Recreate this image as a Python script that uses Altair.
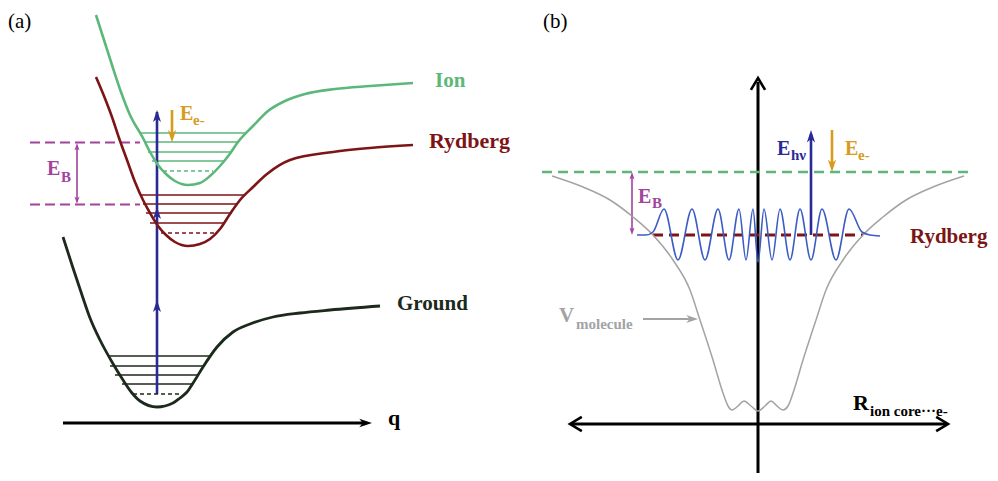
import altair as alt
import pandas as pd

GREEN = "#5cb87a"
RED = "#7d1416"
DARK = "#1c2a1c"
BLUE = "#2a2a96"
ORANGE = "#d89b1c"
MAGENTA = "#a2439c"
GRAY = "#a3a3a3"
WAVE = "#3b5cc4"
BLACK = "#000000"

# ---------------- potential curves (pixel-like schematic coordinates) -------------
ion_x = [96, 104, 112, 121, 130, 143, 150, 158, 166, 175, 188, 200, 210, 220, 229, 238, 253, 268, 285, 305, 335, 370, 413]
ion_y = [15, 40, 65, 92, 115, 138, 152, 165, 174, 181, 185, 183, 176, 166, 155, 142, 126, 111, 101, 94, 89, 86, 83]

ryd_x = [96, 104, 112, 119, 127, 135, 143, 150, 158, 166, 175, 188, 200, 210, 220, 230, 240, 253, 267, 290, 333, 370, 413]
ryd_y = [77, 96, 117, 138, 160, 182, 200, 213, 226, 235, 242, 246, 244, 239, 229, 214, 200, 187, 174, 160, 152, 148, 145]

gnd_x = [63, 73, 83, 90, 100, 112, 123, 132, 140, 157, 173, 180, 187, 195, 203, 217, 233, 250, 273, 300, 330, 380]
gnd_y = [237, 268, 298, 318, 340, 362, 380, 393, 401, 407, 403, 398, 392, 380, 367, 347, 332, 324, 317, 313, 310, 306]

vmol_x = [552, 583, 610, 633, 653, 673, 690, 700, 713, 723, 728, 732, 738, 744, 751, 758, 765, 771, 777, 783, 788, 793, 803, 816, 826, 843, 863, 883, 906, 933, 964]
vmol_y = [176, 187, 200, 217, 235, 260, 290, 320, 360, 393, 406, 410, 406, 401, 406, 411, 406, 401, 406, 410, 406, 393, 360, 320, 290, 260, 235, 217, 200, 187, 176]

wave_x = [637, 646, 653, 664, 678, 692, 705, 718, 729, 739, 746, 753, 758, 764, 772, 780, 790, 800, 811, 822, 836, 849, 862, 870, 880]
wave_y = [235, 235, 232, 209, 260, 209, 260, 209, 260, 209, 260, 209, 262, 209, 260, 209, 260, 209, 260, 209, 260, 209, 232, 235, 236]

curve_names = ["ion", "ryd", "gnd", "vmol", "wave"]
curve_xs = [ion_x, ryd_x, gnd_x, vmol_x, wave_x]
curve_ys = [ion_y, ryd_y, gnd_y, vmol_y, wave_y]
curve_colors = [GREEN, RED, DARK, GRAY, WAVE]
curve_widths = [2.6, 2.6, 2.8, 1.5, 1.6]

rows = []
for n, xs, ys, c, w in zip(curve_names, curve_xs, curve_ys, curve_colors, curve_widths):
    for i, (x, y) in enumerate(zip(xs, ys)):
        rows.append({"id": n, "i": i, "x": x, "y": y, "c": c, "w": w})
curves_df = pd.DataFrame(rows)

# ---------------- straight segments: x1, y1, x2, y2, colour, width, dash ----------------
seg_x1 = [141, 145, 148, 152,  141, 143, 146, 150,  108, 110, 115, 122,
          157, 172, 77, 63, 758, 571, 811, 832, 632, 643,
          163, 161, 133, 30, 30, 542, 653]
seg_y1 = [133, 142, 152, 161,  195, 204, 213, 223,  356, 366, 375, 384,
          394, 110, 147, 423, 481, 424, 235, 130, 176, 319,
          171, 233, 394, 142.5, 204.5, 172, 235]
seg_x2 = [245, 237, 230, 224,  245, 238, 232, 223,  210, 204, 197, 192,
          157, 172, 77, 366, 758, 947, 811, 832, 632, 692,
          213, 214, 181, 140, 140, 972, 863]
seg_y2 = [133, 142, 152, 161,  195, 204, 213, 223,  356, 366, 375, 384,
          112, 137, 200, 423, 82, 424, 134, 166, 231, 319,
          171, 233, 394, 142.5, 204.5, 172, 235]
seg_c = [GREEN] * 4 + [RED] * 4 + [DARK] * 4 + \
        [BLUE, ORANGE, MAGENTA, BLACK, BLACK, BLACK, BLUE, ORANGE, MAGENTA, GRAY,
         GREEN, RED, DARK, MAGENTA, MAGENTA, GREEN, RED]
seg_w = [1.3] * 12 + [2.6, 2.6, 1.6, 3, 3, 3, 2.6, 2.6, 1.6, 2,
                      1.3, 1.3, 1.5, 2, 2, 2.6, 3]
seg_d = ["solid"] * 22 + ["fine", "fine", "fine", "mid", "mid", "long", "long"]
segs_df = pd.DataFrame({"x": seg_x1, "y": seg_y1, "x2": seg_x2, "y2": seg_y2,
                        "c": seg_c, "w": seg_w, "d": seg_d})

# ---------------- arrowheads ----------------
head_x = [157, 157, 157, 172, 77, 77, 372, 811, 832, 632, 632, 698]
head_y = [110, 207, 300, 142.5, 143, 204, 423, 130, 172, 172, 235, 319]
head_a = [0, 0, 0, 180, 0, 180, 90, 0, 180, 0, 180, 90]
head_c = [BLUE, BLUE, BLUE, ORANGE, MAGENTA, MAGENTA, BLACK, BLUE, ORANGE, MAGENTA, MAGENTA, GRAY]
head_s = [180, 180, 180, 190, 70, 70, 200, 190, 190, 70, 70, 170]
heads_df = pd.DataFrame({"x": head_x, "y": head_y, "a": head_a, "c": head_c, "s": head_s})

chev_x = [758, 570, 948]
chev_y = [78, 424, 424]
chev_a = [0, 270, 90]
chev_df = pd.DataFrame({"x": chev_x, "y": chev_y, "a": chev_a})

# ---------------- texts ----------------
txt_t = ["Ion", "Rydberg", "Ground", "q",
         "E", "B", "E", "e-",
         "E", "B", "E", "hν", "E", "e-",
         "V", "molecule", "R", "ion core···e-", "Rydberg"]
txt_x = [435, 429, 397, 388,
         47, 61, 180, 193,
         638, 652, 777, 791, 845, 858,
         559, 576, 853, 870, 910]
txt_y = [87, 148, 310, 425,
         175, 182, 120, 125,
         203, 208, 155, 160, 155, 160,
         322, 329, 410, 416, 243]
txt_c = [GREEN, RED, DARK, BLACK,
         MAGENTA, MAGENTA, ORANGE, ORANGE,
         MAGENTA, MAGENTA, BLUE, BLUE, ORANGE, ORANGE,
         GRAY, GRAY, BLACK, BLACK, RED]
txt_s = [21, 22, 21, 22,
         20, 15, 20, 15,
         20, 15, 20, 15, 20, 15,
         21, 15, 22, 15, 21]
text_df = pd.DataFrame({"x": txt_x, "y": txt_y, "t": txt_t, "c": txt_c, "s": txt_s})

panel_t = ["(a)", "(b)"]
panel_x = [8, 543]
panel_y = [28, 28]
panel_df = pd.DataFrame({"x": panel_x, "y": panel_y, "t": panel_t})

# ---------------- chart ----------------
X = alt.X("x:Q", scale=alt.Scale(domain=[8, 990], nice=False, zero=False), axis=None)
Y = alt.Y("y:Q", scale=alt.Scale(domain=[8, 473], nice=False, zero=False, reverse=True), axis=None)

rules = alt.Chart(segs_df).mark_rule().encode(
    x=X, y=Y, x2="x2:Q", y2="y2:Q",
    color=alt.Color("c:N", scale=None),
    strokeWidth=alt.StrokeWidth("w:Q", scale=None),
    strokeDash=alt.StrokeDash("d:N", legend=None,
                              scale=alt.Scale(domain=["solid", "fine", "mid", "long"],
                                              range=[[1, 0], [4, 3], [10, 5], [10, 6]])),
)

curves = alt.Chart(curves_df).mark_line(interpolate="monotone").encode(
    x=X, y=Y, detail="id:N", order="i:Q",
    color=alt.Color("c:N", scale=None),
    strokeWidth=alt.StrokeWidth("w:Q", scale=None),
)

STEALTH = "M0,0L0.6,1.8L0,1.3L-0.6,1.8Z"
heads = alt.Chart(heads_df).mark_point(shape=STEALTH, filled=True, opacity=1).encode(
    x=X, y=Y,
    angle=alt.Angle("a:Q", scale=None),
    color=alt.Color("c:N", scale=None),
    size=alt.Size("s:Q", scale=None),
)

CHEV = "M-0.6,1L0,0L0.6,1"
chevs = alt.Chart(chev_df).mark_point(shape=CHEV, filled=False, opacity=1, size=560,
                                      strokeWidth=2.6, color=BLACK).encode(
    x=X, y=Y, angle=alt.Angle("a:Q", scale=None),
)

texts = alt.Chart(text_df).mark_text(align="left", baseline="alphabetic",
                                     font="Liberation Serif", fontWeight="bold").encode(
    x=X, y=Y, text="t:N",
    color=alt.Color("c:N", scale=None),
    size=alt.Size("s:Q", scale=None),
)

panels = alt.Chart(panel_df).mark_text(align="left", baseline="alphabetic",
                                       font="Liberation Serif", fontSize=21, color=BLACK).encode(
    x=X, y=Y, text="t:N",
)

chart = alt.layer(rules, curves, heads, chevs, texts, panels).properties(
    width=982, height=465, padding=0,
    autosize=alt.AutoSizeParams(type="none"),
    background="white",
).configure_view(stroke=None)

chart.save("out.html", embed_options={"renderer": "svg", "actions": False})
